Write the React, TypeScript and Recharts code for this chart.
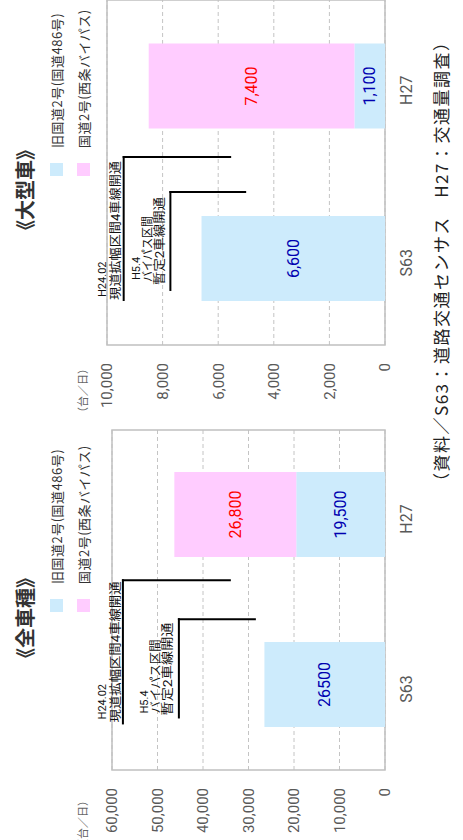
import React from "react";
import {
  BarChart,
  Bar,
  XAxis,
  YAxis,
  CartesianGrid,
  ReferenceArea,
  ReferenceLine,
  ReferenceDot,
  LabelList,
} from "recharts";

const categories = ["S63", "H27"];
const legendNames = ["旧国道2号(国道486号)", "国道2号(西条バイパス)"];

// 全車種
const allOld = [26500, 19500];
const allBypass = [null, 26800];
const allOldLabels = ["26500", "19,500"];
const allBypassLabels = [null, "26,800"];
const allTicks = [0, 10000, 20000, 30000, 40000, 50000, 60000];

// 大型車
const bigOld = [6600, 1100];
const bigBypass = [null, 7400];
const bigOldLabels = ["6,600", "1,100"];
const bigBypassLabels = [null, "7,400"];
const bigTicks = [0, 2000, 4000, 6000, 8000, 10000];

const BLUE = "#cdebfc";
const PINK = "#ffccff";
const FONT = "Roboto, 'Noto Sans CJK JP', sans-serif";
const JP = "'Noto Sans CJK JP', sans-serif";

// opening notes, in chart units (x: 0..2 across the two categories)
const allNotes = [
  {
    x0: 0.274, x1: 1.116, yLine: 57600, yEnd: 34100,
    texts: [
      { t: "H24.02", dx: 4, dy: -17, size: 11 },
      { t: "現道拡幅区間4車線開通", dx: 1, dy: -3, size: 12, len: 141 },
    ],
  },
  {
    x0: 0.309, x1: 0.887, yLine: 45300, yEnd: 28600,
    texts: [
      { t: "H5.4", dx: 4, dy: -31, size: 11 },
      { t: "バイパス区間", dx: 4, dy: -19, size: 12, len: 74 },
      { t: "暫定2車線開通", dx: 2, dy: -7, size: 12, len: 93 },
    ],
  },
];

const bigNotes = [
  {
    x0: 0.261, x1: 1.09, yLine: 9400, yEnd: 5570,
    texts: [
      { t: "H24.02", dx: 3, dy: -18, size: 11 },
      { t: "現道拡幅区間4車線開通", dx: 0, dy: -4, size: 12, len: 139 },
    ],
  },
  {
    x0: 0.319, x1: 0.887, yLine: 7720, yEnd: 5030,
    texts: [
      { t: "H5.4", dx: 10, dy: -30, size: 11 },
      { t: "バイパス区間", dx: 8, dy: -18, size: 12, len: 66 },
      { t: "暫定2車線開通", dx: 5, dy: -6, size: 12, len: 88 },
    ],
  },
];

function NoteText({ cx, cy, texts }) {
  return (
    <g>
      {texts.map((s, i) => (
        <text
          key={i}
          x={cx + s.dx}
          y={cy + s.dy}
          fontSize={s.size}
          fontFamily={FONT}
          fill="#111"
          textLength={s.len}
          lengthAdjust={s.len ? "spacingAndGlyphs" : undefined}
        >
          {s.t}
        </text>
      ))}
    </g>
  );
}

function Panel({ title, left, old, bypass, oldLabels, bypassLabels, ticks, yMax, notes, margin, titleX, legendX, unitRight }) {
  const data = categories.map((c, i) => ({
    pos: i + 0.5,
    name: c,
    old: old[i],
    bypass: bypass[i],
    oldLabel: oldLabels[i],
    bypassLabel: bypassLabels[i],
  }));

  return (
    <div style={{ position: "absolute", left, top: 0, width: 420, height: 463 }}>
      <div
        style={{
          position: "absolute", left: titleX, top: 10, fontFamily: JP, fontSize: 20,
          fontWeight: 700, color: "#333", whiteSpace: "nowrap", lineHeight: "30px",
        }}
      >
        {title}
      </div>
      {legendNames.map((n, i) => (
        <div key={n} style={{ position: "absolute", left: legendX, top: 49 + i * 27, height: 14, display: "flex", alignItems: "center", whiteSpace: "nowrap" }}>
          <span style={{ width: 13, height: 13, background: i === 0 ? BLUE : PINK, display: "inline-block" }} />
          <span style={{ marginLeft: 15, fontFamily: JP, fontSize: 13, color: "#333", letterSpacing: 0.5 }}>{n}</span>
        </div>
      ))}
      <div
        style={{
          position: "absolute", right: unitRight, top: 74, fontFamily: JP, fontSize: 11,
          color: "#666", whiteSpace: "nowrap", lineHeight: "16px",
        }}
      >
        （台／日）
      </div>
      <BarChart width={420} height={463} data={data} margin={margin}>
        <CartesianGrid vertical={false} stroke="#c4c4c4" strokeDasharray="4 3" />
        <XAxis
          type="number"
          dataKey="pos"
          domain={[0, 2]}
          ticks={[0.5, 1.5]}
          tickFormatter={(v) => categories[Math.floor(v)]}
          tickLine={false}
          axisLine={false}
          tickMargin={10}
          height={30}
          tick={{ fill: "#595959", fontSize: 16, fontFamily: FONT, dx: -4 }}
        />
        <YAxis
          domain={[0, yMax]}
          ticks={ticks}
          tickFormatter={(v) => v.toLocaleString("en-US")}
          tickLine={false}
          axisLine={false}
          tickMargin={12}
          width={60}
          tick={{ fill: "#595959", fontSize: 15, fontFamily: FONT }}
        />
        <Bar dataKey="old" stackId="a" fill={BLUE} barSize={85} isAnimationActive={false}>
          <LabelList dataKey="oldLabel" position="center" fill="#0000b0" fontSize={16} fontFamily={FONT} />
        </Bar>
        <Bar dataKey="bypass" stackId="a" fill={PINK} barSize={85} isAnimationActive={false}>
          <LabelList dataKey="bypassLabel" position="center" fill="#ff0000" fontSize={16} fontFamily={FONT} />
        </Bar>
        <ReferenceArea x1={0} x2={2} y1={0} y2={yMax} fill="none" stroke="#c0c0c0" strokeWidth={1.5} ifOverflow="visible" />
        {notes.map((n, k) => (
          <ReferenceLine
            key={"h" + k}
            segment={[{ x: n.x0, y: n.yLine }, { x: n.x1, y: n.yLine }]}
            stroke="#000"
            strokeWidth={2}
            strokeLinecap="square"
            ifOverflow="visible"
          />
        ))}
        {notes.map((n, k) => (
          <ReferenceLine
            key={"v" + k}
            segment={[{ x: n.x1, y: n.yLine }, { x: n.x1, y: n.yEnd }]}
            stroke="#000"
            strokeWidth={2}
            strokeLinecap="square"
            ifOverflow="visible"
          />
        ))}
        {notes.map((n, k) => (
          <ReferenceDot
            key={"t" + k}
            x={n.x0}
            y={n.yLine}
            r={0}
            ifOverflow="visible"
            shape={(p) => <NoteText cx={p.cx} cy={p.cy} texts={n.texts} />}
          />
        ))}
      </BarChart>
    </div>
  );
}

export default function App() {
  return (
    <div style={{ position: "fixed", left: 0, top: 0, width: 463, height: 840, overflow: "hidden", background: "#fff" }}>
      <div
        style={{
          position: "absolute", left: 0, top: 0, width: 840, height: 463,
          transformOrigin: "0 0", transform: "translateY(840px) rotate(-90deg)",
        }}
      >
        <Panel
          title="《全車種》"
          left={0}
          old={allOld}
          bypass={allBypass}
          oldLabels={allOldLabels}
          bypassLabels={allBypassLabels}
          ticks={allTicks}
          yMax={60000}
          notes={allNotes}
          margin={{ top: 112, right: 10, left: 10, bottom: 48 }}
          titleX={172}
          legendX={228}
          unitRight={375}
        />
        <Panel
          title="《大型車》"
          left={420}
          old={bigOld}
          bypass={bigBypass}
          oldLabels={bigOldLabels}
          bypassLabels={bigBypassLabels}
          ticks={bigTicks}
          yMax={10000}
          notes={bigNotes}
          margin={{ top: 107, right: 0, left: 15, bottom: 48 }}
          titleX={180}
          legendX={244}
          unitRight={363}
        />
        <div
          style={{
            position: "absolute", left: 350, top: 430, fontFamily: JP, fontSize: 17,
            color: "#222", whiteSpace: "nowrap", lineHeight: "22px", letterSpacing: 1.5,
          }}
        >
          （資料／S63：道路交通センサス　H27：交通量調査）
        </div>
      </div>
    </div>
  );
}
